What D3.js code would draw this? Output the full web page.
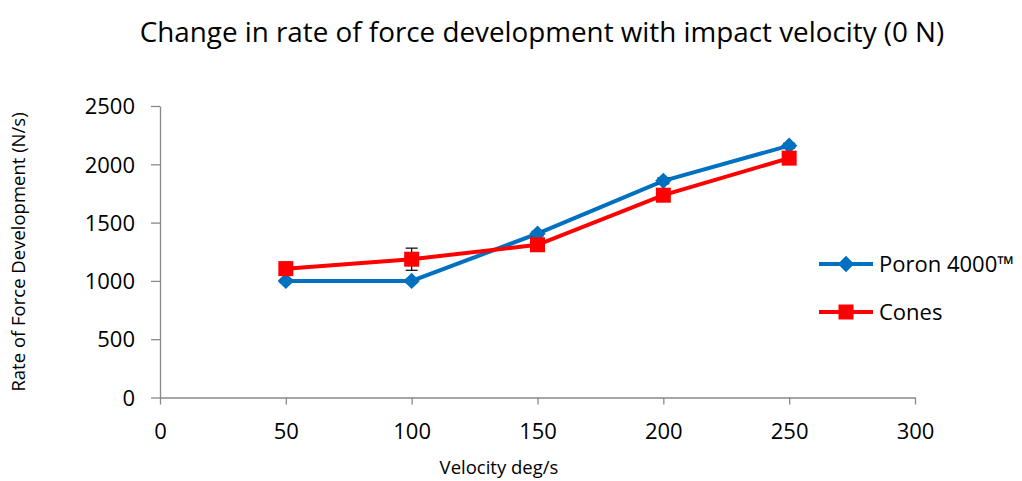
<!DOCTYPE html>
<html><head><meta charset="utf-8">
<script src="https://cdn.jsdelivr.net/npm/d3@7"></script>
<style>body{margin:0;background:#fff}text{font-family:"Open Sans",sans-serif}</style>
</head><body><svg id="c" width="1022" height="481"></svg>
<script>
const velocities = [50, 100, 150, 200, 250];
const poron = [1000, 1000, 1405, 1858, 2160];
const poronErr = [15, 15, 20, 25, 20];
const cones = [1105, 1186, 1310, 1735, 2053];
const conesErr = [55, 95, 25, 25, 20];
const xTicks = [0, 50, 100, 150, 200, 250, 300];
const yTicks = [0, 500, 1000, 1500, 2000, 2500];
const seriesNames = ["Poron 4000™", "Cones"];

const svg = d3.select("#c");
const x = d3.scaleLinear().domain([0, 300]).range([160, 915]);
const y = d3.scaleLinear().domain([0, 2500]).range([397.5, 106]);
const axisColor = "#898989";
const fmt = d3.format("d");

const gx = svg.append("g").attr("transform", "translate(0,397.5)")
  .call(d3.axisBottom(x).tickValues(xTicks).tickFormat(fmt).tickSize(7).tickPadding(19).tickSizeOuter(0));
const gy = svg.append("g").attr("transform", "translate(160,0)")
  .call(d3.axisLeft(y).tickValues(yTicks).tickFormat(fmt).tickSize(9).tickPadding(16).tickSizeOuter(0));
[gx, gy].forEach(g => {
  g.selectAll("path,line").attr("stroke", axisColor).attr("stroke-width", 1.3);
  g.selectAll("text").attr("font-size", 22).attr("fill", "#000").attr("font-family", "'Open Sans',sans-serif");
});
gy.selectAll("text").attr("dy", "0.35em");

svg.append("text").attr("x", 542).attr("y", 42).attr("text-anchor", "middle")
  .attr("font-size", 27.8).text("Change in rate of force development with impact velocity (0 N)");
svg.append("text").attr("x", 499).attr("y", 474).attr("text-anchor", "middle")
  .attr("font-size", 18.5).text("Velocity deg/s");
svg.append("text").attr("transform", "translate(25,252) rotate(-90)").attr("text-anchor", "middle")
  .attr("font-size", 18.5).text("Rate of Force Development (N/s)");

const series = [
  {name: seriesNames[0], vals: poron, err: poronErr, color: "#0070C0", shape: "diamond"},
  {name: seriesNames[1], vals: cones, err: conesErr, color: "#FF0000", shape: "square"}
];
const line = d3.line().x(d => x(d[0])).y(d => y(d[1]));

function marker(g, shape, color, cx, cy) {
  if (shape === "diamond") {
    g.append("path").attr("d", d3.symbol(d3.symbolDiamond2, 170)()).attr("transform", `translate(${cx},${cy})`).attr("fill", color);
  } else {
    g.append("rect").attr("x", cx - 7.5).attr("y", cy - 7.5).attr("width", 15).attr("height", 15).attr("fill", color);
  }
}

series.forEach(s => {
  const pts = velocities.map((v, i) => [v, s.vals[i]]);
  svg.append("path").datum(pts).attr("d", line).attr("fill", "none").attr("stroke", s.color).attr("stroke-width", 4);
});
series.forEach(s => {
  const g = svg.append("g");
  velocities.forEach((v, i) => {
    const cx = x(v), top = y(s.vals[i] + s.err[i]), bot = y(s.vals[i] - s.err[i]);
    g.append("line").attr("x1", cx).attr("x2", cx).attr("y1", top).attr("y2", bot).attr("stroke", "#000").attr("stroke-width", 1.2);
    g.append("line").attr("x1", cx - 6).attr("x2", cx + 6).attr("y1", top).attr("y2", top).attr("stroke", "#000").attr("stroke-width", 1.2);
    g.append("line").attr("x1", cx - 6).attr("x2", cx + 6).attr("y1", bot).attr("y2", bot).attr("stroke", "#000").attr("stroke-width", 1.2);
  });
  velocities.forEach((v, i) => marker(g, s.shape, s.color, x(v), y(s.vals[i])));
});

// legend
series.forEach((s, i) => {
  const ly = 264 + i * 48;
  const g = svg.append("g");
  g.append("line").attr("x1", 819).attr("x2", 873).attr("y1", ly).attr("y2", ly).attr("stroke", s.color).attr("stroke-width", 4);
  marker(g, s.shape, s.color, 846, ly);
  g.append("text").attr("x", 879).attr("y", ly).attr("dy", "0.35em").attr("font-size", 22).text(s.name);
});
</script></body></html>
